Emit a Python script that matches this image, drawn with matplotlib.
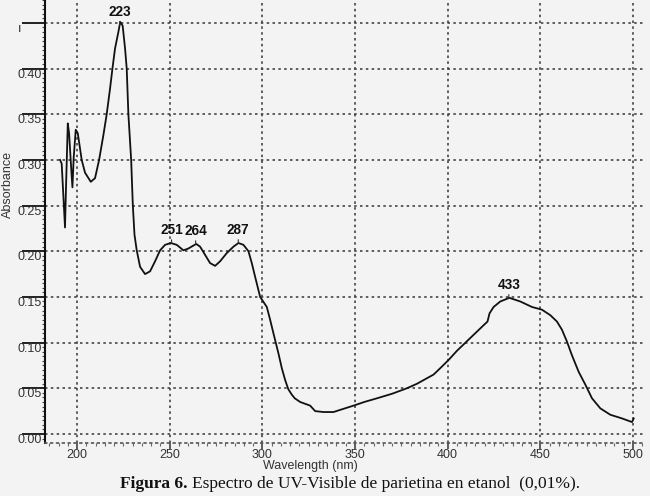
import numpy as np
import matplotlib
matplotlib.use("Agg")
import matplotlib.pyplot as plt
from matplotlib.ticker import MultipleLocator

# UV-Vis spectrum of parietin in ethanol
wavelength = [190.8, 191.7, 193.5, 194.0, 195.0, 195.7, 196.8, 197.5, 198.2, 199.3,
              200.4, 202.5, 204.3, 207.4, 209.7, 211.9, 214.2, 216.0, 217.8, 219.1,
              220.5, 222.3, 223.3, 224.6, 225.9, 226.8, 227.7, 229.2, 230.1, 231.0,
              232.2, 234.0, 236.7, 239.4, 242.1, 244.8, 247.5, 250.6, 253.8, 257.4,
              260.1, 264.3, 266.4, 269.1, 271.8, 274.5, 277.2, 280.8, 284.4, 287.1,
              289.8, 292.5, 294.3, 296.1, 298.8, 302.4, 304.2, 306.0, 308.7, 310.5,
              312.3, 314.0, 315.9, 317.5, 320.4, 325.8, 328.5, 333.0, 338.4, 343.0,
              349.2, 355.0, 361.8, 370.0, 378.0, 383.5, 392.4, 396.0, 400.5, 405.0,
              412.2, 415.8, 419.4, 421.5, 422.6, 424.8, 428.4, 433.3, 439.2, 445.5,
              450.9, 455.4, 459.0, 461.7, 464.4, 467.1, 470.7, 474.3, 477.9, 482.4,
              487.8, 494.1, 499.5, 500.4]
absorbance = [0.300, 0.296, 0.226, 0.267, 0.340, 0.329, 0.292, 0.270, 0.303, 0.333,
              0.329, 0.300, 0.286, 0.276, 0.280, 0.300, 0.327, 0.350, 0.378, 0.400,
              0.422, 0.440, 0.451, 0.447, 0.422, 0.400, 0.350, 0.300, 0.250, 0.218,
              0.201, 0.183, 0.175, 0.178, 0.189, 0.201, 0.207, 0.209, 0.207, 0.201,
              0.203, 0.208, 0.205, 0.196, 0.187, 0.184, 0.189, 0.198, 0.205, 0.209,
              0.207, 0.200, 0.187, 0.172, 0.150, 0.139, 0.125, 0.110, 0.088, 0.072,
              0.059, 0.049, 0.043, 0.039, 0.035, 0.031, 0.025, 0.024, 0.024, 0.027,
              0.031, 0.035, 0.039, 0.044, 0.050, 0.055, 0.065, 0.072, 0.081, 0.091,
              0.105, 0.112, 0.119, 0.123, 0.132, 0.139, 0.145, 0.149, 0.145, 0.139,
              0.136, 0.130, 0.123, 0.114, 0.101, 0.086, 0.068, 0.054, 0.039, 0.028,
              0.021, 0.017, 0.013, 0.017]

peak_wl = [223, 251, 264, 287, 433]
peak_labels = ['223', '251', '264', '287', '433']

x_ticks = [200, 250, 300, 350, 400, 450, 500]
y_ticks = [0.00, 0.05, 0.10, 0.15, 0.20, 0.25, 0.30, 0.35, 0.40, 0.45]
y_ticklabels = ['0.00', '0.05', '0.10', '0.15', '0.20', '0.25', '0.30', '0.35', '0.40',
                'ı      ']

bg = '#f3f3f3'
fig = plt.figure(figsize=(6.5, 4.96), dpi=100, facecolor=bg)
ax = fig.add_axes([45/650, 1 - 443/496, 600/650, 443/496], facecolor=bg)

ax.plot(wavelength, absorbance, color='#111111', lw=1.3)

# peak labels with small leader ticks
for w, lbl in zip(peak_wl, peak_labels):
    a = np.interp(w, wavelength, absorbance)
    ax.annotate(lbl, xy=(w, a), xytext=(0, 4.5), textcoords='offset points',
                ha='center', va='bottom', fontsize=9.8, fontweight='bold',
                family='Liberation Sans', color='#111111',
                arrowprops=dict(arrowstyle='-', lw=0.8, color='#333333',
                                shrinkA=0, shrinkB=0))

ax.set_xlim(182.7, 506.5)
ax.set_ylim(-0.0099, 0.475)

ax.set_xticks(x_ticks)
ax.set_xticklabels([str(t) for t in x_ticks])
ax.set_yticks(y_ticks)
ax.set_yticklabels(y_ticklabels)
ax.xaxis.set_minor_locator(MultipleLocator(5))
ax.yaxis.set_minor_locator(MultipleLocator(0.005))

ax.grid(True, which='major', color='#444444', lw=1.2, linestyle=(0, (1.5, 2)))

for s in ['top', 'right']:
    ax.spines[s].set_visible(False)
ax.spines['left'].set_linewidth(1.5)
ax.spines['left'].set_color('#111111')
ax.spines['bottom'].set_linestyle((0, (1, 2.5)))
ax.spines['bottom'].set_color('#555555')
ax.spines['bottom'].set_linewidth(1.2)

ax.tick_params(axis='y', which='major', length=16.5, width=1.3, color='#111111',
               pad=-14.4, labelsize=9, labelcolor='#333333')
ax.tick_params(axis='y', which='minor', length=2.5, width=0.8, color='#444444')
ax.tick_params(axis='x', which='major', length=4, width=1.2, color='#444444',
               pad=0.5, labelsize=9, labelcolor='#333333')
ax.tick_params(axis='x', which='minor', length=2, width=0.8, color='#666666')
for t in ax.get_yticklabels():
    t.set_va('top')
    t.set_family('Liberation Sans')
for t in ax.get_xticklabels():
    t.set_family('Liberation Sans')

fig.text(310/650, 1 - 466/496, 'Wavelength (nm)', ha='center', va='center',
         fontsize=9, family='Liberation Sans', color='#333333')
fig.text(8/650, 1 - 185/496, 'Absorbance', ha='center', va='center', rotation=90,
         fontsize=9, family='Liberation Sans', color='#333333')

# caption
fig.text(188/650, 1 - 484/496, 'Figura 6.', ha='right', va='center',
         fontsize=12.5, fontweight='bold', family='Liberation Serif', color='#111111')
fig.text(192/650, 1 - 484/496, 'Espectro de UV-Visible de parietina en etanol  (0,01%).',
         ha='left', va='center', fontsize=12.5, family='Liberation Serif', color='#111111')

fig.savefig('out.png', dpi=100, facecolor=bg)
